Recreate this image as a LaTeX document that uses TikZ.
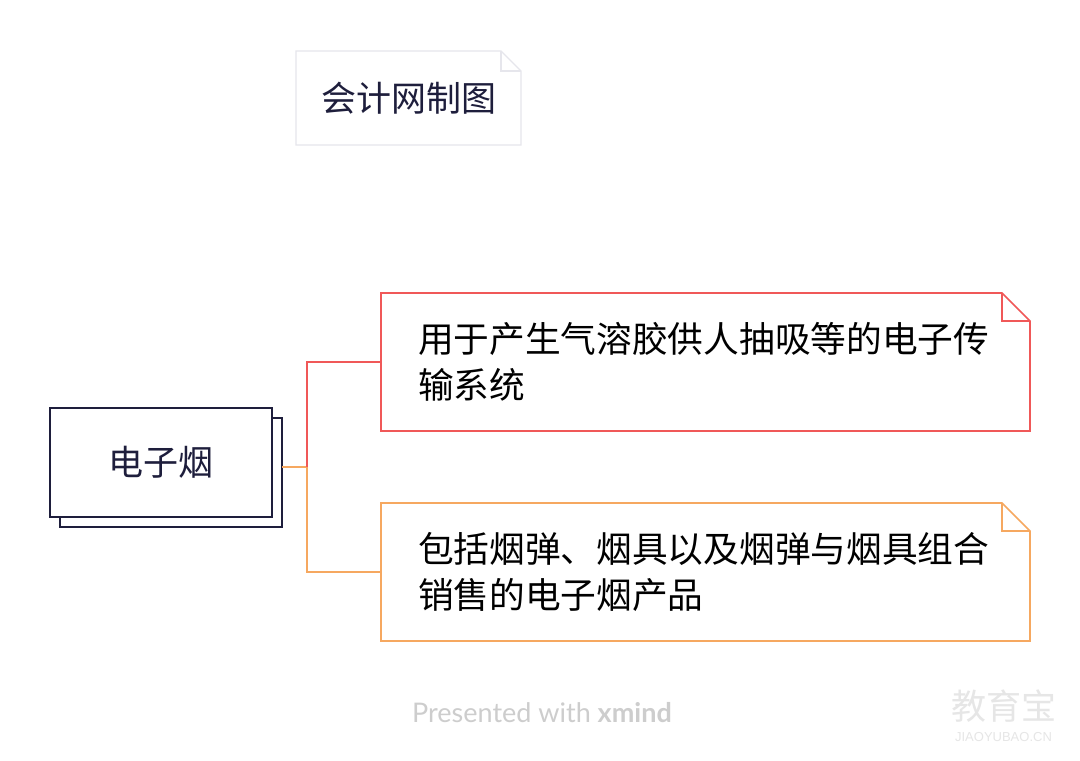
\documentclass[tikz,border=0pt]{standalone}
\usepackage{fontspec}
\setmainfont{Noto Sans CJK SC}
\newfontfamily\latofont{Lato}
\newfontfamily\wmfont{Liberation Sans}
\usetikzlibrary{calc}
\definecolor{navy}{RGB}{30,30,60}
\definecolor{redline}{RGB}{240,88,88}
\definecolor{orangeline}{RGB}{246,168,96}
\definecolor{titleline}{RGB}{230,230,236}
\definecolor{footgray}{RGB}{205,205,205}
\definecolor{wmgray}{RGB}{230,230,230}
\tikzset{
  box/.style={draw=none, inner sep=0pt, outer sep=0pt, anchor=center},
  topicbox/.style={box, minimum width=649pt, minimum height=138pt, text width=575pt, align=left,
     font=\fontsize{35.7}{46}\selectfont, text=black},
  conn/.style={line width=1.6pt},
}
\begin{document}
\begin{tikzpicture}[x=1pt,y=-1pt]
\useasboundingbox (0,0) rectangle (1080,761);
\fill[white] (0,0) rectangle (1080,761);

% title
\node[box, minimum width=225pt, minimum height=94pt, text=navy, font=\fontsize{35}{40}\selectfont] (title) at (408.5,98) {会计网制图};
\draw[titleline, line width=1.4pt, line join=miter]
  (title.north west) -- ([xshift=-20pt]title.north east) -- ([yshift=-20pt]title.north east)
  -- (title.south east) -- (title.south west) -- cycle;
\draw[titleline, line width=1.4pt] ([xshift=-20pt]title.north east) |- ([yshift=-20pt]title.north east);

% central node
\node[box, minimum width=222pt, minimum height=109pt] (shadow) at (171,472.5) {};
\draw[navy, line width=2pt, fill=white] (shadow.north west) rectangle (shadow.south east);
\node[box, minimum width=222pt, minimum height=109pt, fill=white, draw=navy, line width=2pt,
  text=navy, font=\fontsize{35}{40}\selectfont] (root) at (161,462.5) {电子烟};

% topics
\node[topicbox] (t1) at (705.5,362) {用于产生气溶胶供人抽吸等的电子传\\输系统};
\draw[redline, conn, line join=miter]
  (t1.north west) -- ([xshift=-28pt]t1.north east) -- ([yshift=-28pt]t1.north east)
  -- (t1.south east) -- (t1.south west) -- cycle;
\draw[redline, conn] ([xshift=-28pt]t1.north east) |- ([yshift=-28pt]t1.north east);

\node[topicbox] (t2) at (705.5,572) {包括烟弹、烟具以及烟弹与烟具组合\\销售的电子烟产品};
\draw[orangeline, conn, line join=miter]
  (t2.north west) -- ([xshift=-28pt]t2.north east) -- ([yshift=-28pt]t2.north east)
  -- (t2.south east) -- (t2.south west) -- cycle;
\draw[orangeline, conn] ([xshift=-28pt]t2.north east) |- ([yshift=-28pt]t2.north east);

% connectors
\coordinate (fork) at (307,467);
\draw[orangeline, conn] (shadow.east |- fork) -- (fork);
\draw[redline, conn] (fork) |- (t1.west);
\draw[orangeline, conn] (fork) |- (t2.west);

% footer
\node[box, text=footgray, font=\latofont\fontsize{27}{30}\selectfont] (foot) at (542,713) {Presented with \textbf{xmind}};
\node[box, text=wmgray, font=\fontsize{35}{36}\selectfont] (wm) at (1003.5,706) {教育宝};
\node[box, text=wmgray, font=\wmfont\fontsize{13}{14}\selectfont] (wm2) at (1003.5,737) {JIAOYUBAO.CN};
\end{tikzpicture}
\end{document}
